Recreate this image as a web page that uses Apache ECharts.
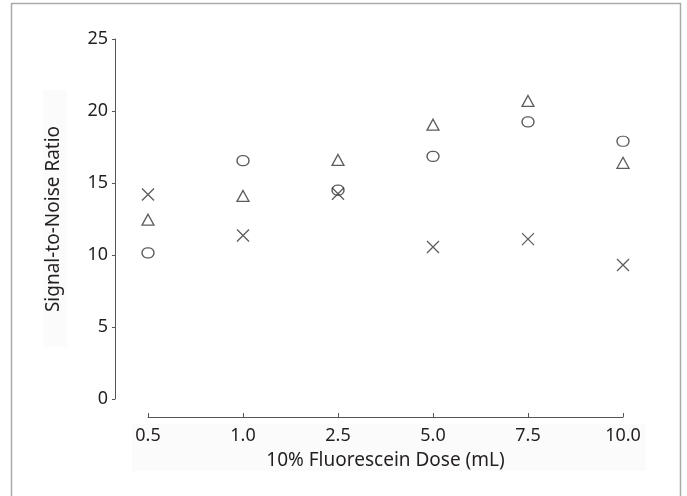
<!DOCTYPE html>
<html lang="en">
	<head>
		<meta charset="UTF-8">
		<title>Signal-to-Noise Ratio</title>
		<script src="https://cdn.jsdelivr.net/npm/echarts@6/dist/echarts.min.js"></script>
		<style>
			html, body { margin: 0; padding: 0; background: #fff; }
			#chart { width: 687px; height: 496px; }
		</style>
	</head>
	<body>
		<div id="chart"></div>
		<script type="text/javascript">
			// doses on the x axis
			var doses = ['0.5', '1.0', '2.5', '5.0', '7.5', '10.0'];
			// values, one array per marker
			var crossVals = [14.2, 11.35, 14.25, 10.55, 11.1, 9.3];
			var triangleVals = [12.45, 14.1, 16.6, 19.05, 20.7, 16.4];
			var circleVals = [10.15, 16.55, 14.5, 16.85, 19.25, 17.9];
			var yTicks = [0, 5, 10, 15, 20, 25];

			var ink = '#231f20';
			var mark = '#333';
			var font = 'Noto Sans';

			function pointSeries(name, vals, symbol, size) {
				return {
					name: name,
					type: 'scatter',
					data: vals,
					symbol: symbol,
					symbolSize: size,
					itemStyle: { color: 'none', borderColor: mark, borderWidth: 1.3 }
				};
			}

			var myChart = echarts.init(document.getElementById('chart'));
			var option = {
				animation: false,
				grid: { left: 148, right: 64, top: 39, bottom: 97 },
				graphic: [
					{ type: 'rect', shape: { x: 43, y: 90, width: 24, height: 257 }, style: { fill: '#fbfbfb' }, z: -10 },
					{ type: 'rect', shape: { x: 132, y: 424, width: 514, height: 47 }, style: { fill: '#fbfbfb' }, z: -10 },
					{ type: 'rect', shape: { x: 11.5, y: 3.5, width: 669, height: 520 }, style: { fill: 'none', stroke: '#aaa', lineWidth: 1.5 } }
				],
				xAxis: {
					type: 'category',
					data: doses,
					boundaryGap: false,
					offset: 18,
					axisLine: { onZero: false, lineStyle: { color: '#555', width: 1 } },
					axisTick: { inside: true, length: 4, lineStyle: { color: '#555' } },
					axisLabel: { margin: 10, fontSize: 18, color: ink, fontFamily: font },
					splitLine: { show: false },
					name: '10% Fluorescein Dose (mL)',
					nameLocation: 'middle',
					nameGap: 34,
					nameTextStyle: { fontSize: 19, color: ink, fontFamily: font }
				},
				yAxis: {
					type: 'value',
					min: yTicks[0],
					max: yTicks[yTicks.length - 1],
					interval: 5,
					offset: 33,
					axisLine: { show: true, onZero: false, lineStyle: { color: '#555', width: 1 } },
					axisTick: { show: true, length: 3, lineStyle: { color: '#555' } },
					axisLabel: { margin: 7, fontSize: 18, color: ink, fontFamily: font },
					splitLine: { show: false },
					name: 'Signal-to-Noise Ratio',
					nameLocation: 'middle',
					nameGap: 52,
					nameTextStyle: { fontSize: 19, color: ink, fontFamily: font }
				},
				series: [
					pointSeries('cross', crossVals, 'path://M0,0L12,12M12,0L0,12', [12, 12]),
					pointSeries('triangle', triangleVals, 'triangle', [12, 11]),
					pointSeries('circle', circleVals, 'path://M5,0H7A5,5 0 0 1 7,10H5A5,5 0 0 1 5,0Z', [12, 10])
				]
			};
			myChart.setOption(option);
		</script>
	</body>
</html>
